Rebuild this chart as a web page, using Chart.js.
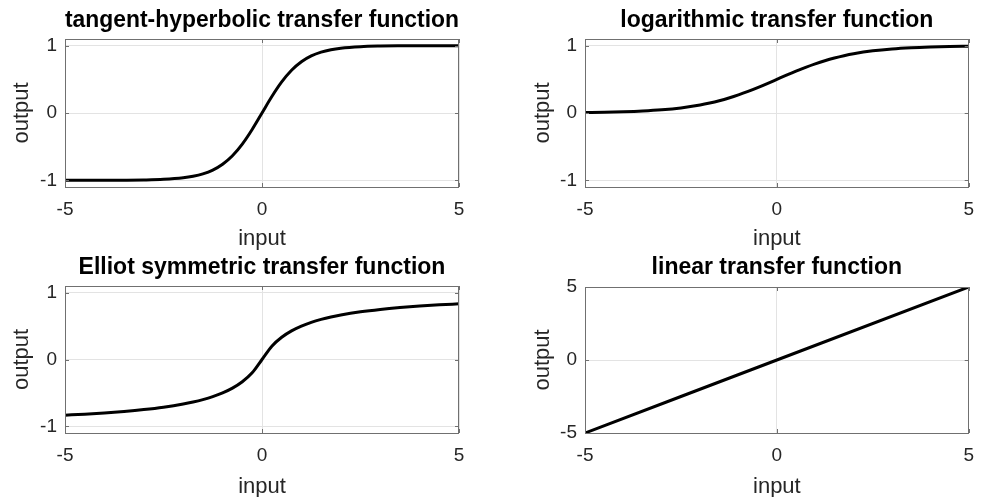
<!DOCTYPE html>
<html>
<head>
<meta charset="utf-8">
<script src="https://cdn.jsdelivr.net/npm/chart.js@4.4.1/dist/chart.umd.min.js"></script>
<style>
  html, body { margin: 0; padding: 0; background: #fff; }
  #wrap { position: relative; width: 985px; height: 497px; overflow: hidden; }
  .panel { position: absolute; }
</style>
</head>
<body>
<div id="wrap">
  <div class="panel" style="left:0;top:0;width:490px;height:256px"><canvas id="TanhChart"></canvas></div>
  <div class="panel" style="left:490px;top:0;width:495px;height:256px"><canvas id="LogsigChart"></canvas></div>
  <div class="panel" style="left:0;top:248px;width:490px;height:249px"><canvas id="ElliotChart"></canvas></div>
  <div class="panel" style="left:490px;top:248px;width:495px;height:249px"><canvas id="LinearChart"></canvas></div>
</div>
<script>
(function () {
  "use strict";

  // sample inputs shared by the three sigmoid curves
  const input = [-5, -4.5, -4, -3.5, -3, -2.5, -2, -1.75, -1.5, -1.25, -1, -0.75, -0.5, -0.25, 0,
                 0.25, 0.5, 0.75, 1, 1.25, 1.5, 1.75, 2, 2.5, 3, 3.5, 4, 4.5, 5];

  const tanhOut = [-0.9999, -0.9998, -0.9993, -0.9982, -0.9951, -0.9866, -0.9640, -0.9414, -0.9051, -0.8483, -0.7616, -0.6351, -0.4621, -0.2449, 0,
                   0.2449, 0.4621, 0.6351, 0.7616, 0.8483, 0.9051, 0.9414, 0.9640, 0.9866, 0.9951, 0.9982, 0.9993, 0.9998, 0.9999];

  const logsigOut = [0.0067, 0.0110, 0.0180, 0.0293, 0.0474, 0.0759, 0.1192, 0.1480, 0.1824, 0.2227, 0.2689, 0.3208, 0.3775, 0.4378, 0.5,
                     0.5622, 0.6225, 0.6792, 0.7311, 0.7773, 0.8176, 0.8520, 0.8808, 0.9241, 0.9526, 0.9707, 0.9820, 0.9890, 0.9933];

  const elliotOut = [-0.8333, -0.8182, -0.8, -0.7778, -0.75, -0.7143, -0.6667, -0.6364, -0.6, -0.5556, -0.5, -0.4286, -0.3333, -0.2, 0,
                     0.2, 0.3333, 0.4286, 0.5, 0.5556, 0.6, 0.6364, 0.6667, 0.7143, 0.75, 0.7778, 0.8, 0.8182, 0.8333];

  const linInput  = [-5, 0, 5];
  const linOutput = [-5, 0, 5];

  // tick labels
  const inputTicks = [-5, 0, 5];
  const unitTicks  = [-1, 0, 1];
  const linTicks   = [-5, 0, 5];

  const font_family = '"Liberation Sans", Arial, Helvetica, sans-serif';
  const text_dark   = '#262626';
  const box_gray    = '#707070';
  const grid_gray   = '#e3e3e3';
  const TITLE_SIZE  = 23;
  const TICK_SIZE   = 19;
  const LABEL_SIZE  = 22;

  function toPoints(xs, ys) {
    return xs.map(function (x, i) { return { x: x, y: ys[i] }; });
  }

  // matlab-like box with inward tick marks on all four sides
  const boxPlugin = {
    id: 'matlabBox',
    afterDraw: function (chart) {
      const ctx = chart.ctx;
      const a = chart.chartArea;
      const xs = chart.scales.x, ys = chart.scales.y;
      const len = 4;
      ctx.save();
      ctx.strokeStyle = box_gray;
      ctx.lineWidth = 1;
      ctx.beginPath();
      xs.ticks.forEach(function (t) {
        const px = Math.round(xs.getPixelForValue(t.value)) + 0.5;
        ctx.moveTo(px, a.bottom); ctx.lineTo(px, a.bottom - len);
        ctx.moveTo(px, a.top); ctx.lineTo(px, a.top + len);
      });
      ys.ticks.forEach(function (t) {
        const py = Math.round(ys.getPixelForValue(t.value)) + 0.5;
        ctx.moveTo(a.left, py); ctx.lineTo(a.left + len, py);
        ctx.moveTo(a.right, py); ctx.lineTo(a.right - len, py);
      });
      ctx.stroke();
      ctx.strokeRect(Math.round(a.left) + 0.5, Math.round(a.top) + 0.5,
                     Math.round(a.right - a.left) - 1, Math.round(a.bottom - a.top));
      ctx.restore();
    }
  };

  function makePanel(id, cfg) {
    const el = document.getElementById(id);
    if (el == null) return;
    const titleBottom = cfg.areaTop - cfg.titleTop - TITLE_SIZE * 1.2;
    return new Chart(el.getContext('2d'), {
      type: 'line',
      data: {
        datasets: [{
          data: toPoints(cfg.xs, cfg.ys),
          borderColor: '#000',
          borderWidth: 3,
          pointRadius: 0,
          cubicInterpolationMode: 'monotone',
          fill: false
        }]
      },
      options: {
        responsive: true,
        maintainAspectRatio: false,
        animation: false,
        layout: { padding: { left: 0, right: cfg.padRight, top: 0, bottom: 0 } },
        plugins: {
          legend: { display: false },
          tooltip: { enabled: false },
          title: {
            display: true,
            text: cfg.title,
            fullSize: false,
            color: '#000',
            font: { family: font_family, size: TITLE_SIZE, weight: 'bold' },
            padding: { top: cfg.titleTop, bottom: titleBottom }
          }
        },
        scales: {
          x: {
            type: 'linear',
            min: -5,
            max: 5,
            afterBuildTicks: function (s) { s.ticks = inputTicks.map(function (v) { return { value: v }; }); },
            afterFit: function (s) { s.height = cfg.xHeight; },
            grid: { color: grid_gray, drawTicks: false },
            border: { display: false },
            ticks: { color: text_dark, padding: 11, maxRotation: 0, font: { family: font_family, size: TICK_SIZE } },
            title: { display: true, text: 'input', color: text_dark, padding: { top: 0, bottom: cfg.xTitlePad },
                     font: { family: font_family, size: LABEL_SIZE } }
          },
          y: {
            type: 'linear',
            min: cfg.yMin,
            max: cfg.yMax,
            afterBuildTicks: function (s) { s.ticks = cfg.yTicks.map(function (v) { return { value: v }; }); },
            afterFit: function (s) { s.width = cfg.yWidth; },
            grid: { color: grid_gray, drawTicks: false },
            border: { display: false },
            ticks: { color: text_dark, padding: 8, font: { family: font_family, size: TICK_SIZE } },
            title: { display: true, text: 'output', color: text_dark, padding: { top: cfg.yTitlePad, bottom: 0 },
                     font: { family: font_family, size: LABEL_SIZE } }
          }
        }
      },
      plugins: [boxPlugin]
    });
  }

  makePanel('TanhChart', {
    title: 'tangent-hyperbolic transfer function', xs: input, ys: tanhOut,
    yMin: -1.1, yMax: 1.1, yTicks: unitTicks,
    areaTop: 39, titleTop: 7, xHeight: 69, yWidth: 65, padRight: 31, yTitlePad: 9, xTitlePad: 4
  });

  makePanel('LogsigChart', {
    title: 'logarithmic transfer function', xs: input, ys: logsigOut,
    yMin: -1.1, yMax: 1.1, yTicks: unitTicks,
    areaTop: 39, titleTop: 7, xHeight: 69, yWidth: 95, padRight: 6, yTitlePad: 40, xTitlePad: 4
  });

  makePanel('ElliotChart', {
    title: 'Elliot symmetric transfer function', xs: input, ys: elliotOut,
    yMin: -1.1, yMax: 1.1, yTicks: unitTicks,
    areaTop: 38, titleTop: 6, xHeight: 64, yWidth: 65, padRight: 31, yTitlePad: 9, xTitlePad: -3
  });

  makePanel('LinearChart', {
    title: 'linear transfer function', xs: linInput, ys: linOutput,
    yMin: -5, yMax: 5, yTicks: linTicks,
    areaTop: 39, titleTop: 6, xHeight: 64, yWidth: 95, padRight: 6, yTitlePad: 40, xTitlePad: -3
  });

})();
</script>
</body>
</html>
